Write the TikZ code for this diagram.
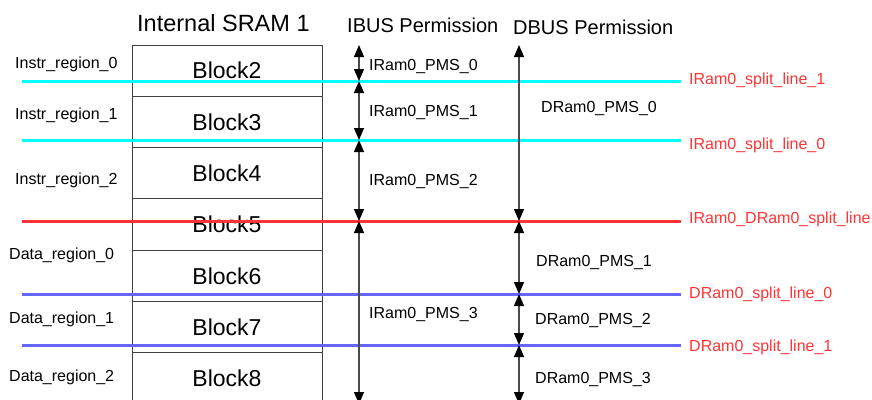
\documentclass[tikz,border=0pt]{standalone}
\usepackage{fontspec}
\setmainfont{Liberation Sans}
\usetikzlibrary{arrows.meta}
\definecolor{splitred}{HTML}{FF3333}
\definecolor{splitcyan}{HTML}{00FFFF}
\definecolor{splitblue}{HTML}{6666FF}
\definecolor{lbl}{HTML}{FF3333}
\begin{document}
\begin{tikzpicture}[x=1pt,y=-1pt,
  lab/.style={font=\fontsize{16}{18}\selectfont, inner sep=0pt, anchor=base west},
  redlab/.style={lab, text=lbl},
  hdr/.style={font=\fontsize{20}{22}\selectfont, inner sep=0pt, anchor=base west},
  blk/.style={draw=black!75, line width=1pt, minimum width=190pt, minimum height=51.3pt,
    inner sep=0pt, font=\fontsize{23}{25}\selectfont},
  split/.style={line width=3pt},
  tipx/.tip={Triangle[length=12pt,width=10pt,color=black]},
  pms/.style={line width=1.2pt, draw=black!70, tipx-tipx}
]
\useasboundingbox (0,0) rectangle (872,399);

% headers
\node[hdr, font=\fontsize{23.5}{25}\selectfont] (hsram) at (137,31) {Internal SRAM 1};
\node[hdr] (hibus) at (347,32) {IBUS Permission};
\node[hdr] (hdbus) at (513,34) {DBUS Permission};

% blocks
\node[blk] (b2) at (227,70.65) {Block2};
\node[blk] (b3) at (227,121.95) {Block3};
\node[blk] (b4) at (227,173.25) {Block4};
\node[blk] (b5) at (227,224.55) {Block5};
\node[blk] (b6) at (227,275.85) {Block6};
\node[blk] (b7) at (227,327.15) {Block7};
\node[blk] (b8) at (227,378.45) {Block8};

% region labels
\node[lab] (ir0) at (15,68) {Instr\_region\_0};
\node[lab] (ir1) at (15,119) {Instr\_region\_1};
\node[lab] (ir2) at (15,184) {Instr\_region\_2};
\node[lab] (dr0) at (9,259) {Data\_region\_0};
\node[lab] (dr1) at (9,323) {Data\_region\_1};
\node[lab] (dr2) at (9,381) {Data\_region\_2};

% split line end points
\coordinate (c1l) at (22,81);   \coordinate (c1r) at (681,81);
\coordinate (c0l) at (22,140);  \coordinate (c0r) at (681,140);
\coordinate (rdl) at (22,221);  \coordinate (rdr) at (681,221);
\coordinate (d0l) at (22,294);  \coordinate (d0r) at (681,294);
\coordinate (d1l) at (22,345);  \coordinate (d1r) at (681,345);

\draw[split, splitcyan] (c1l) -- (c1r);
\draw[split, splitcyan] (c0l) -- (c0r);
\draw[split, splitred] (rdl) -- (rdr);
\draw[split, splitblue] (d0l) -- (d0r);
\draw[split, splitblue] (d1l) -- (d1r);

% split line labels
\node[redlab] (l1) at (689,84) {IRam0\_split\_line\_1};
\node[redlab] (l0) at (689,149) {IRam0\_split\_line\_0};
\node[redlab] (lrd) at (689,223) {IRam0\_DRam0\_split\_line};
\node[redlab] (ld0) at (689,298) {DRam0\_split\_line\_0};
\node[redlab] (ld1) at (689,351) {DRam0\_split\_line\_1};

% arrow end points
\coordinate (it) at (359,45);
\coordinate (i1) at (359,81);
\coordinate (i2) at (359,140);
\coordinate (i3) at (359,221);
\coordinate (ib) at (359,404);
\coordinate (dt) at (519,45);
\coordinate (d1) at (519,221);
\coordinate (d2) at (519,294);
\coordinate (d3) at (519,345);
\coordinate (db) at (519,404);

\draw[pms] (it) -- (i1);
\draw[pms] (i1) -- (i2);
\draw[pms] (i2) -- (i3);
\draw[pms] (i3) -- (ib);
\draw[pms] (dt) -- (d1);
\draw[pms] (d1) -- (d2);
\draw[pms] (d2) -- (d3);
\draw[pms] (d3) -- (db);

% permission labels
\node[lab] (ip0) at (369,70) {IRam0\_PMS\_0};
\node[lab] (ip1) at (369,116) {IRam0\_PMS\_1};
\node[lab] (ip2) at (369,185) {IRam0\_PMS\_2};
\node[lab] (ip3) at (369,318) {IRam0\_PMS\_3};
\node[lab] (dp0) at (541,112) {DRam0\_PMS\_0};
\node[lab] (dp1) at (536,266) {DRam0\_PMS\_1};
\node[lab] (dp2) at (535,324) {DRam0\_PMS\_2};
\node[lab] (dp3) at (535,383) {DRam0\_PMS\_3};
\end{tikzpicture}
\end{document}
